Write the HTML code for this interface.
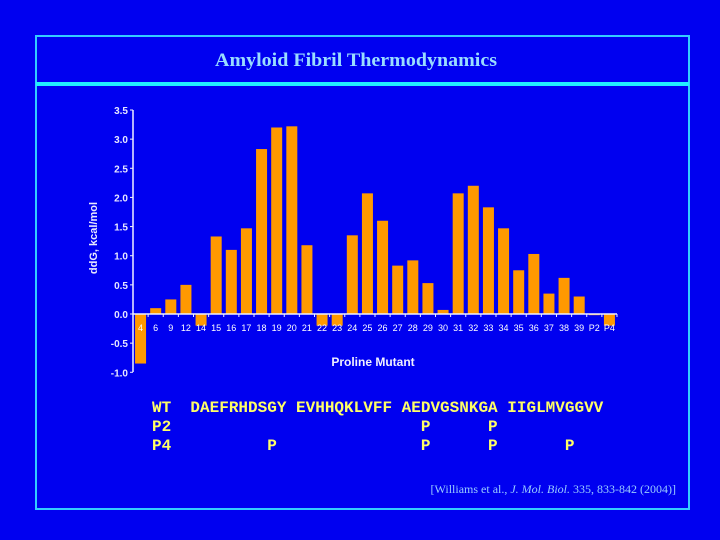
<!DOCTYPE html>
<html><head><meta charset="utf-8"><style>
html,body{margin:0;padding:0;background:#0000f0;}
#root{position:relative;width:720px;height:540px;background:#0000f0;overflow:hidden;}
svg{position:absolute;left:0;top:0;}
</style></head><body>
<div id="root">
<svg id="chart" width="720" height="540">
<rect x="36" y="36" width="653" height="473" fill="none" stroke="#33ccff" stroke-width="2"/>
<rect x="36" y="82" width="653" height="4" fill="#22eeff"/>
<text x="356" y="66" text-anchor="middle" font-family="Liberation Serif, serif" font-weight="bold" font-size="19" fill="#99ddff" textLength="282" lengthAdjust="spacingAndGlyphs">Amyloid Fibril Thermodynamics</text>
<text transform="translate(97,238) rotate(-90)" text-anchor="middle" font-family="Liberation Sans, sans-serif" font-weight="bold" font-size="11" fill="#e8e8ff">ddG, kcal/mol</text>
<text x="373" y="366" text-anchor="middle" font-family="Liberation Sans, sans-serif" font-weight="bold" font-size="12" fill="#f0f0ff">Proline Mutant</text>
<g id="plot"></g>
<g font-family="Liberation Mono, monospace" font-weight="bold" font-size="16" fill="#ffff66">
<text x="152" y="412" xml:space="preserve">WT  DAEFRHDSGY EVHHQKLVFF AEDVGSNKGA IIGLMVGGVV</text>
<text x="152" y="431" xml:space="preserve">P2                          P      P</text>
<text x="152" y="450" xml:space="preserve">P4          P               P      P       P</text>
</g>
<text x="676" y="493" text-anchor="end" font-family="Liberation Serif, serif" font-size="12" fill="#99ccff">[Williams et al., <tspan font-style="italic">J. Mol. Biol.</tspan> 335, 833-842 (2004)]</text>
</svg>
</div>
<script>
const categories = ["4","6","9","12","14","15","16","17","18","19","20","21","22","23","24","25","26","27","28","29","30","31","32","33","34","35","36","37","38","39","P2","P4"];
const values = [-0.85,0.1,0.25,0.5,-0.2,1.33,1.1,1.47,2.83,3.2,3.22,1.18,-0.2,-0.2,1.35,2.07,1.6,0.83,0.92,0.53,0.07,2.07,2.2,1.83,1.47,0.75,1.03,0.35,0.62,0.3,-0.02,-0.2];
const yTicks = [3.5,3.0,2.5,2.0,1.5,1.0,0.5,0.0,-0.5,-1.0];
const NS='http://www.w3.org/2000/svg';
const g=document.getElementById('plot');
const x0=133,x1=617,yTop=110,yBot=372;
function y(v){return 314-(v)*((314-yTop)/3.5);}
const step=(x1-x0)/categories.length;
function xc(i){return x0+(i+0.5)*step;}
function mk(t,a){const e=document.createElementNS(NS,t);for(const k in a)e.setAttribute(k,a[k]);g.appendChild(e);return e;}
values.forEach((v,i)=>{
 const r=mk('rect',{x:xc(i)-5.5,y:Math.min(y(v),y(0)),width:11,height:Math.abs(y(v)-y(0)),fill:'#ff9900'});
 
 
});
let ax=mk('line',{x1:x0,y1:yTop,x2:x0,y2:yBot,stroke:'#f0f0ff','stroke-width':1.5});


let bx=mk('line',{x1:x0,y1:y(0),x2:x1,y2:y(0),stroke:'#f0f0ff','stroke-width':1.5});


yTicks.forEach(t=>{
 mk('line',{x1:x0-3,y1:y(t),x2:x0,y2:y(t),stroke:'#f0f0ff'});
 const l=mk('text',{x:x0-5,y:y(t)+4,'text-anchor':'end','font-family':'Liberation Sans, sans-serif','font-weight':'bold','font-size':10,fill:'#e8e8ff'});
 l.textContent=t.toFixed(1);
 
 
});
categories.forEach((c,i)=>{
 mk('line',{x1:x0+(i+1)*step,y1:y(0),x2:x0+(i+1)*step,y2:y(0)+3,stroke:'#f0f0ff'});
 const l=mk('text',{x:xc(i),y:y(0)+17,'text-anchor':'middle','font-family':'Liberation Sans, sans-serif','font-size':9,fill:'#ffffff'});
 l.textContent=c;
 
 
});
</script>
</body></html>
